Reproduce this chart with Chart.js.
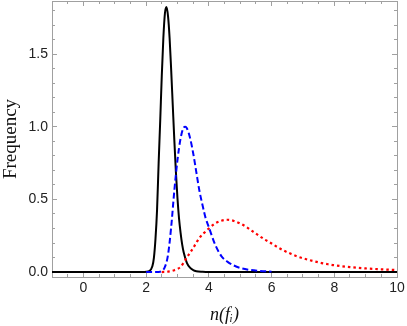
<!DOCTYPE html>
<html>
<head>
<meta charset="utf-8">
<script src="https://cdn.jsdelivr.net/npm/chart.js@4/dist/chart.umd.min.js"></script>
<style>
  html, body { margin: 0; padding: 0; background: #fff; }
  #wrap { width: 407px; height: 326px; position: relative; }
</style>
</head>
<body>
<div id="wrap"><canvas id="c"></canvas></div>
<script>
// ---- data ----
const blackX = [-1, 1.9, 2.0, 2.1, 2.2, 2.25, 2.3, 2.35, 2.4, 2.45, 2.5, 2.55, 2.6, 2.65, 2.7, 2.75, 2.8, 2.85, 2.9, 2.95, 3.0, 3.05, 3.1, 3.15, 3.2, 3.3, 3.4, 3.5, 3.6, 3.8, 4.0, 10];
const blackY = [0, 0, 0.002, 0.006, 0.04, 0.1, 0.23, 0.43, 0.75, 1.04, 1.35, 1.61, 1.78, 1.824, 1.76, 1.61, 1.39, 1.15, 0.91, 0.69, 0.51, 0.37, 0.27, 0.19, 0.134, 0.064, 0.03, 0.014, 0.006, 0.002, 0.0005, 0];

const blueX = [2.0, 2.4, 2.5, 2.6, 2.7, 2.8, 2.9, 3.0, 3.1, 3.2, 3.25, 3.3, 3.4, 3.5, 3.6, 3.7, 3.8, 3.9, 4.0, 4.2, 4.4, 4.6, 4.8, 5.0, 5.3, 5.6, 6.0];
const blueY = [0, 0.001, 0.007, 0.035, 0.12, 0.31, 0.56, 0.77, 0.92, 0.995, 1.0, 0.99, 0.925, 0.82, 0.69, 0.56, 0.46, 0.37, 0.31, 0.19, 0.11, 0.07, 0.045, 0.028, 0.015, 0.008, 0.003];

const redX = [2.5, 2.7, 2.9, 3.1, 3.3, 3.5, 3.7, 3.9, 4.0, 4.2, 4.4, 4.6, 4.8, 5.0, 5.2, 5.4, 5.6, 5.8, 6.0, 6.2, 6.4, 6.6, 6.8, 7.0, 7.2, 7.4, 7.6, 7.8, 8.0, 8.5, 9.0, 9.5, 10];
const redY = [0, 0.003, 0.013, 0.036, 0.1, 0.165, 0.235, 0.28, 0.3, 0.335, 0.353, 0.36, 0.352, 0.334, 0.31, 0.28, 0.25, 0.222, 0.197, 0.17, 0.147, 0.127, 0.109, 0.095, 0.083, 0.072, 0.062, 0.054, 0.047, 0.034, 0.025, 0.019, 0.014];

const xMajorTicks = [0, 2, 4, 6, 8, 10];
const xMinorTicks = [-0.5, 0.5, 1, 1.5, 2.5, 3, 3.5, 4.5, 5, 5.5, 6.5, 7, 7.5, 8.5, 9, 9.5];
const yMajorTicks = [0, 0.5, 1.0, 1.5];
const yMinorTicks = [0.1, 0.2, 0.3, 0.4, 0.6, 0.7, 0.8, 0.9, 1.1, 1.2, 1.3, 1.4, 1.6, 1.7, 1.8];

const xLabel = 'n(f\u1D62)';
const yLabel = 'Frequency';

// ---- chart ----
const X_MIN = -1, X_MAX = 10, Y_MIN = -0.034, Y_MAX = 1.866;
const FRAME = '#a0a0a0';
const toPts = (xs, ys) => xs.map((x, i) => ({ x: x, y: ys[i] }));

function axis(dir, position, tickVals, len, size, weight, extra) {
  const cfg = {
    type: 'linear', axis: dir, position: position, weight: weight,
    min: dir === 'x' ? X_MIN : Y_MIN, max: dir === 'x' ? X_MAX : Y_MAX,
    afterBuildTicks: s => { s.ticks = tickVals.map(v => ({ value: v })); },
    afterFit: s => {
      if (dir === 'x') s.height = size; else s.width = size;
      s.paddingTop = 0; s.paddingBottom = 0; s.paddingLeft = 0; s.paddingRight = 0;
    },
    grid: { drawOnChartArea: false, drawTicks: true, tickLength: -len, tickColor: FRAME, tickWidth: 1 },
    border: { display: false },
    ticks: { display: false, autoSkip: false, maxRotation: 0, minRotation: 0 },
    title: { display: false }
  };
  return Object.assign(cfg, extra || {});
}

const scales = {
  x: axis('x', 'bottom', xMajorTicks, 5, 49, 1, {
    border: { display: true, color: FRAME, width: 1 },
    ticks: { display: true, autoSkip: false, maxRotation: 0, minRotation: 0, padding: 8,
      color: '#222', font: { family: 'Liberation Sans', size: 14 },
      callback: v => String(v) },
    title: { display: true, text: xLabel, color: '#111', padding: 0,
      font: { family: 'Liberation Serif', size: 18, style: 'italic' } }
  }),
  xMinor: axis('x', 'bottom', xMinorTicks, 3, 0, 0),
  y: axis('y', 'left', yMajorTicks, 5, 52, 1, {
    border: { display: true, color: FRAME, width: 1 },
    ticks: { display: true, autoSkip: false, maxRotation: 0, minRotation: 0, padding: 9,
      color: '#222', font: { family: 'Liberation Sans', size: 14 },
      callback: v => Number(v).toFixed(1) },
    title: { display: true, text: yLabel, color: '#111', padding: 0,
      font: { family: 'Liberation Serif', size: 19 } }
  }),
  yMinor: axis('y', 'left', yMinorTicks, 3, 0, 0),
  xTop: axis('x', 'top', xMajorTicks, 5, 1, 1, { border: { display: true, color: FRAME, width: 1 } }),
  xTopMinor: axis('x', 'top', xMinorTicks, 3, 0, 0),
  yRight: axis('y', 'right', yMajorTicks, 5, 10, 1, { border: { display: true, color: FRAME, width: 1 } }),
  yRightMinor: axis('y', 'right', yMinorTicks, 3, 0, 0)
};

new Chart(document.getElementById('c'), {
  type: 'line',
  data: {
    datasets: [
      { label: 'red', data: toPts(redX, redY), order: 0, borderColor: '#ff0000', borderWidth: 2.2,
        borderDash: [2.5, 3], cubicInterpolationMode: 'monotone', pointRadius: 0, fill: false },
      { label: 'blue', data: toPts(blueX, blueY), order: 1, borderColor: '#0000ff', borderWidth: 2,
        borderDash: [6, 3], cubicInterpolationMode: 'monotone', pointRadius: 0, fill: false },
      { label: 'black', data: toPts(blackX, blackY), order: 2, borderColor: '#000000', borderWidth: 2,
        cubicInterpolationMode: 'monotone', pointRadius: 0, fill: false }
    ]
  },
  options: {
    responsive: true, maintainAspectRatio: false, animation: false,
    layout: { padding: 0 },
    plugins: { legend: { display: false }, tooltip: { enabled: false } },
    scales: scales
  }
});
</script>
</body>
</html>
